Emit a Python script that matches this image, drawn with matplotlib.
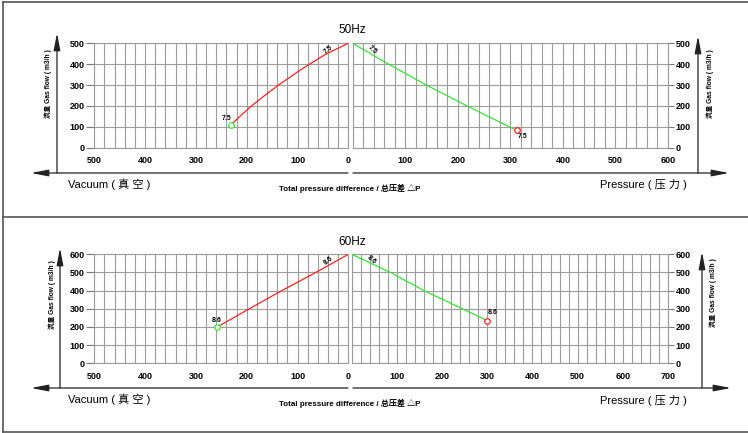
import matplotlib
matplotlib.use("Agg")
import matplotlib.pyplot as plt
from matplotlib.ticker import MultipleLocator, FuncFormatter

plt.rcParams['font.family'] = ['Liberation Sans', 'Noto Sans CJK SC', 'DejaVu Sans']

W, H = 748, 433

# ---- data (pressure difference mbar, gas flow m3/h) ----
vac50_dp = [0, 46, 92, 138, 170, 193, 212, 231]
vac50_q = [500, 446, 376, 299, 240, 195, 153, 110]
pres50_dp = [0, 67, 135, 219, 298, 312]
pres50_q = [500, 402, 307, 198, 100, 83]

vac60_dp = [0, 64, 131, 195, 258]
vac60_q = [600, 500, 400, 300, 200]
pres60_dp = [0, 86, 160, 245, 300]
pres60_q = [600, 500, 400, 300, 235]

power50 = "7.5"
power60 = "8.6"

RED = "#ff2020"
GREEN = "#33e633"
GRID = "#9c9c9c"

fig = plt.figure(figsize=(W / 100, H / 100), dpi=100)


def px_axes(x0, y0, x1, y1):
    return fig.add_axes([x0 / W, 1 - y1 / H, (x1 - x0) / W, (y1 - y0) / H])


def style(ax, xmax, ymax, side):
    ax.set_xlim(xmax, 0) if side == "left" else ax.set_xlim(0, xmax)
    ax.set_ylim(0, ymax)
    ax.xaxis.set_major_locator(MultipleLocator(100))
    ax.xaxis.set_minor_locator(MultipleLocator(20))
    ax.yaxis.set_major_locator(MultipleLocator(100))
    ax.grid(True, which="both", axis="x", color=GRID, lw=0.8)
    ax.grid(True, which="major", axis="y", color=GRID, lw=0.8)
    for s in ax.spines.values():
        s.set_color(GRID)
        s.set_linewidth(0.8)
    ax.tick_params(axis="x", which="both", length=0, pad=6, labelsize=6.5)
    if side == "left":
        ax.tick_params(axis="y", length=6, width=0.8, color="#777777", pad=1, labelsize=6.5)
    else:
        # the shared 0 is labelled once, by the vacuum side
        ax.xaxis.set_major_formatter(FuncFormatter(lambda v, p: "" if v == 0 else f"{v:.0f}"))
        ax.yaxis.tick_right()
        ax.tick_params(axis="y", length=4, width=0.8, color="#777777", pad=1.5, labelsize=6.5)
    for lab in ax.get_xticklabels() + ax.get_yticklabels():
        lab.set_fontweight("bold")


def draw_curve(ax, dp, q, color, mcolor, label, start_off, start_rot, end_off):
    ax.plot(dp, q, color=color, lw=0.9, zorder=3)
    ax.plot(dp[-1], q[-1], "o", ms=4, mfc="white", mec=mcolor, mew=0.9, zorder=4)
    ax.annotate(label, (dp[0], q[0]), xytext=start_off, textcoords="offset points",
                fontsize=5, fontweight="bold", rotation=start_rot, ha="center", va="center")
    ax.annotate(label, (dp[-1], q[-1]), xytext=end_off, textcoords="offset points",
                fontsize=5, fontweight="bold", ha="center", va="center")


# ---- 50Hz ----
a1 = px_axes(94.3, 43.3, 348.3, 147.7)
style(a1, 500, 500, "left")
draw_curve(a1, vac50_dp, vac50_q, RED, GREEN, power50, (-14, -4.5), 40, (-3, 4.5))
a2 = px_axes(352.7, 43.3, 668, 147.7)
style(a2, 600, 500, "right")
draw_curve(a2, pres50_dp, pres50_q, GREEN, RED, power50, (14, -5), -40, (4, -4.5))

# ---- 60Hz ----
a3 = px_axes(94.3, 254.3, 348.3, 363.3)
style(a3, 500, 600, "left")
draw_curve(a3, vac60_dp, vac60_q, RED, GREEN, power60, (-14, -4.5), 40, (-0.5, 4.5))
a4 = px_axes(351.7, 254.3, 668, 363.3)
style(a4, 700, 600, "right")
draw_curve(a4, pres60_dp, pres60_q, GREEN, RED, power60, (14, -4), -40, (4, 5.5))

# ---- frame, arrows and captions on an overlay in pixel units ----
bg = fig.add_axes([0, 0, 1, 1], zorder=-1)
bg.set_xlim(0, W)
bg.set_ylim(H, 0)
bg.axis("off")

frame = dict(color="#555555", lw=1.2)
bg.plot([3, 3], [2, 431.5], **frame)
bg.plot([3, W], [2, 2], **frame)
bg.plot([3, W], [431.5, 431.5], **frame)
bg.plot([3, W], [217, 217], **frame)

arrow = dict(arrowstyle="-|>,head_length=1.3,head_width=0.25", color="#222222",
             lw=0.9, mutation_scale=8, shrinkA=0, shrinkB=0)


def axis_arrows(ybase, ltop, rtop, lx, rx, rend):
    bg.annotate("", xy=(31, ybase), xytext=(348, ybase), arrowprops=arrow)
    bg.annotate("", xy=(rend, ybase), xytext=(353, ybase), arrowprops=arrow)
    bg.annotate("", xy=(lx, ltop), xytext=(lx, ybase), arrowprops=arrow)
    bg.annotate("", xy=(rx, rtop), xytext=(rx, ybase), arrowprops=arrow)


axis_arrows(173, 33, 36, 57, 698, 729)
axis_arrows(388, 248, 252, 60, 702, 731)

for yb, title, yt in [(173, "50Hz", 30), (388, "60Hz", 242)]:
    bg.text(352, yt, title, fontsize=8.5, ha="center", va="center")
    bg.text(68, yb + 11, "Vacuum ( 真 空 )", fontsize=8, ha="left", va="center")
    bg.text(600, yb + 12, "Pressure ( 压 力 )", fontsize=8, ha="left", va="center")
    bg.text(350, yb + 15, "Total pressure difference / 总压差 △P", fontsize=5.8,
            fontweight="bold", ha="center", va="center")

ylab = "流量 Gas flow ( m3/h )"
for x, y in [(48, 84), (710, 84), (52, 295), (713, 293)]:
    bg.text(x, y, ylab, fontsize=4.8, fontweight="bold", rotation=90,
            ha="center", va="center")

fig.savefig("out.png", dpi=100)
